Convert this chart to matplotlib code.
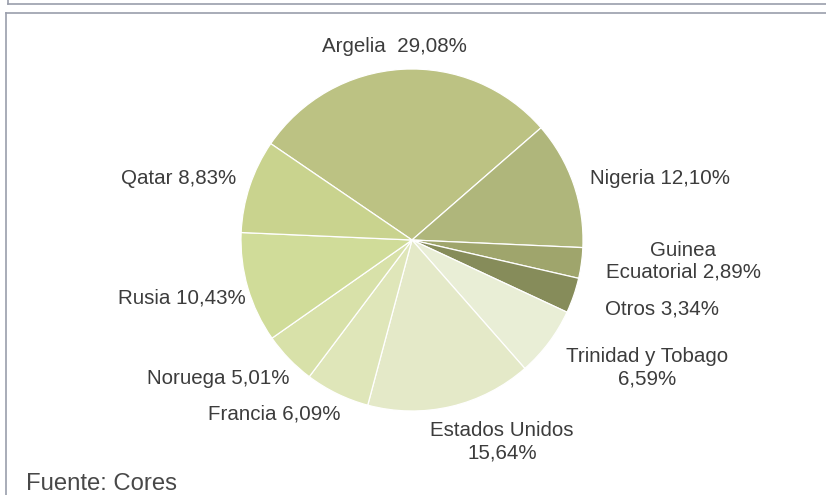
import matplotlib.pyplot as plt
from matplotlib.lines import Line2D

plt.rcParams['font.family'] = ['Liberation Sans', 'DejaVu Sans']

paises = ["Argelia ", "Nigeria", "Guinea\nEcuatorial", "Otros", "Trinidad y Tobago\n",
          "Estados Unidos\n", "Francia", "Noruega", "Rusia", "Qatar"]
cuotas = [29.08, 12.10, 2.89, 3.34, 6.59, 15.64, 6.09, 5.01, 10.43, 8.83]
colores = ["#bcc283", "#afb67b", "#9fa56c", "#868c5a", "#e9eed6",
           "#e4e9c8", "#dfe6b9", "#d8e1a9", "#d0dc99", "#c9d38e"]

# label anchors in pixels from the top-left corner, with alignment
pos_etiquetas = [(394, 47, "center"), (590, 178, "left"), (683, 261, "center"),
                 (605, 309, "left"), (647, 368, "center"), (502, 442, "center"),
                 (208, 414, "left"), (147, 379, "left"), (118, 298, "left"),
                 (121, 178, "left")]

W, H = 826, 495
fig = plt.figure(figsize=(W / 100, H / 100), dpi=100)
ax = fig.add_axes([0, 0, 1, 1])

ax.pie(cuotas, colors=colores, center=(412, H - 240), radius=171,
       startangle=145.7, counterclock=False,
       wedgeprops=dict(edgecolor="white", linewidth=0.9), frame=True)
ax.set_xlim(0, W)
ax.set_ylim(0, H)
ax.set_aspect("equal")
ax.axis("off")

for nombre, v, (x, y, ha) in zip(paises, cuotas, pos_etiquetas):
    valor = f"{v:.2f}".replace(".", ",") + "%"
    texto = nombre + valor if nombre.endswith("\n") else f"{nombre} {valor}"
    ax.text(x, H - y, texto, ha=ha, va="center", fontsize=14.8,
            color="#3c3c3c", linespacing=1.2, multialignment="center")

ax.text(26, H - 484, "Fuente: Cores", ha="left", va="center",
        fontsize=17.2, color="#484848")

# frame lines around the chart
borde = "#9a9eac"
for xs, ys in [((8, W), (4, 4)), ((8, 8), (0, 4)),
               ((6, W), (13, 13)), ((6, 6), (13, H))]:
    ax.add_line(Line2D(xs, [H - y for y in ys], color=borde, linewidth=1.2))

fig.savefig("out.png", dpi=100)
